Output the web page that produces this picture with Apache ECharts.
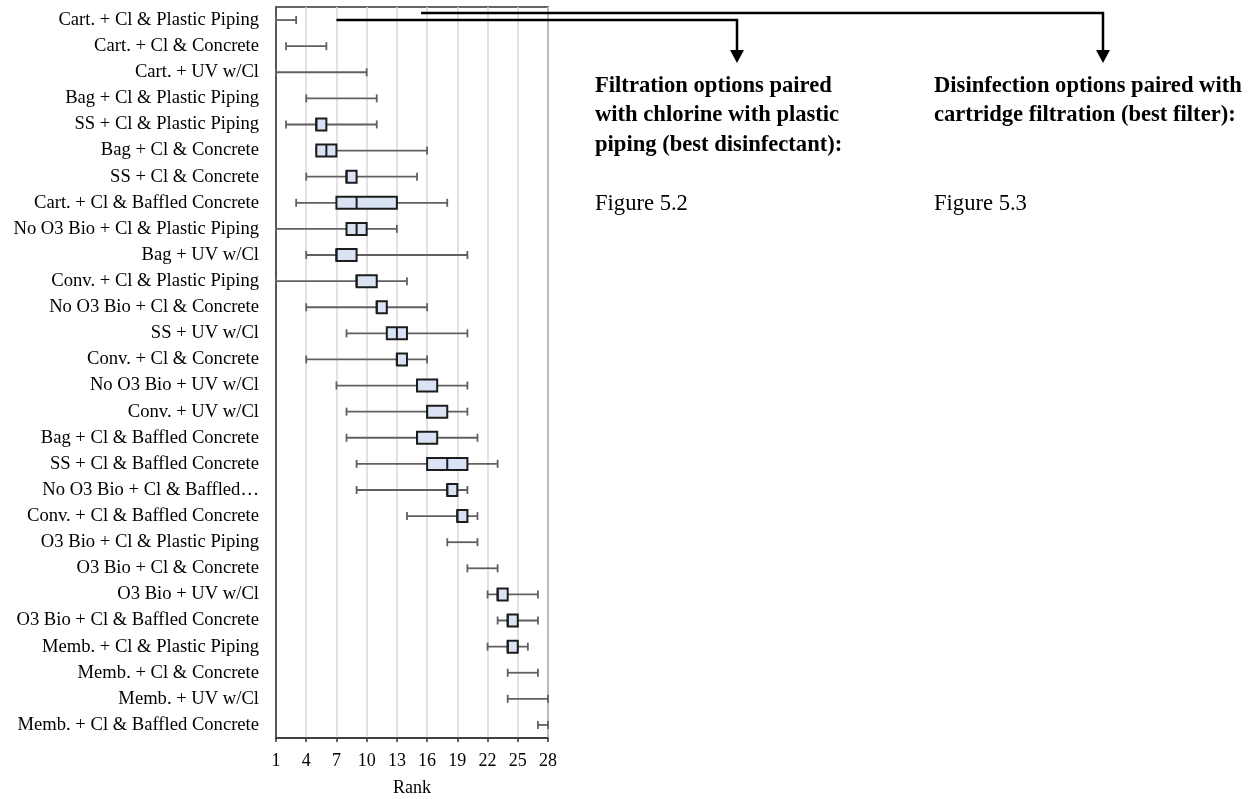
<!DOCTYPE html>
<html>
<head>
<meta charset="utf-8">
<script src="https://cdn.jsdelivr.net/npm/echarts@6/dist/echarts.min.js"></script>
<style>
  html, body { margin: 0; padding: 0; background: #fff; }
  #chart { width: 1250px; height: 799px; }
</style>
</head>
<body>
<div id="chart"></div>
<script>
// Treatment trains, listed from best (top) to worst rank
const categories = [
  'Cart. + Cl & Plastic Piping',
  'Cart. + Cl & Concrete',
  'Cart. + UV w/Cl',
  'Bag + Cl & Plastic Piping',
  'SS + Cl & Plastic Piping',
  'Bag + Cl & Concrete',
  'SS + Cl & Concrete',
  'Cart. + Cl & Baffled Concrete',
  'No O3 Bio + Cl & Plastic Piping',
  'Bag + UV w/Cl',
  'Conv. + Cl & Plastic Piping',
  'No O3 Bio + Cl & Concrete',
  'SS + UV w/Cl',
  'Conv. + Cl & Concrete',
  'No O3 Bio + UV w/Cl',
  'Conv. + UV w/Cl',
  'Bag + Cl & Baffled Concrete',
  'SS + Cl & Baffled Concrete',
  'No O3 Bio + Cl & Baffled…',
  'Conv. + Cl & Baffled Concrete',
  'O3 Bio + Cl & Plastic Piping',
  'O3 Bio + Cl & Concrete',
  'O3 Bio + UV w/Cl',
  'O3 Bio + Cl & Baffled Concrete',
  'Memb. + Cl & Plastic Piping',
  'Memb. + Cl & Concrete',
  'Memb. + UV w/Cl',
  'Memb. + Cl & Baffled Concrete'
];

// Rank statistics for each train
const minRank    = [1, 2, 1, 4, 2, 5, 4, 3, 1, 4, 1, 4, 8, 4, 7, 8, 8, 9, 9, 14, 18, 20, 22, 23, 22, 24, 24, 27];
const q1Rank     = [1, 2, 1, 4, 5, 5, 8, 7, 8, 7, 9, 11, 12, 13, 15, 16, 15, 16, 18, 19, 18, 20, 23, 24, 24, 24, 24, 27];
const medianRank = [1, 2, 1, 4, 5, 6, 8, 9, 9, 7, 9, 11, 13, 13, 15, 16, 15, 18, 18, 19, 18, 20, 23, 24, 24, 24, 24, 27];
const q3Rank     = [1, 2, 1, 4, 6, 7, 9, 13, 10, 9, 11, 12, 14, 14, 17, 18, 17, 20, 19, 20, 18, 20, 24, 25, 25, 24, 24, 27];
const maxRank    = [3, 6, 10, 11, 11, 16, 15, 18, 13, 20, 14, 16, 20, 16, 20, 20, 21, 23, 20, 21, 21, 23, 27, 27, 26, 27, 28, 28];

const rankTicks = [1, 4, 7, 10, 13, 16, 19, 22, 25, 28];

const rows = categories.map((c, i) => [i, minRank[i], q1Rank[i], medianRank[i], q3Rank[i], maxRank[i]]);

const SERIF = "'Liberation Serif', 'Times New Roman', serif";

function renderBox(params, api) {
  const cat = api.value(0);
  const lo = api.coord([api.value(1), cat]);
  const b1 = api.coord([api.value(2), cat]);
  const md = api.coord([api.value(3), cat]);
  const b3 = api.coord([api.value(4), cat]);
  const hi = api.coord([api.value(5), cat]);
  const cy = lo[1];
  const capH = 4;
  const boxH = 6;
  const whisker = { stroke: '#606060', lineWidth: 1.8 };
  const children = [
    { type: 'line', shape: { x1: lo[0], y1: cy, x2: hi[0], y2: cy }, style: whisker },
    { type: 'line', shape: { x1: lo[0], y1: cy - capH, x2: lo[0], y2: cy + capH }, style: whisker },
    { type: 'line', shape: { x1: hi[0], y1: cy - capH, x2: hi[0], y2: cy + capH }, style: whisker }
  ];
  if (b3[0] - b1[0] > 0.5) {
    children.push({
      type: 'rect',
      shape: { x: b1[0], y: cy - boxH, width: b3[0] - b1[0], height: boxH * 2 },
      style: { fill: '#dae3f3', stroke: '#1c1c1c', lineWidth: 2 }
    });
    children.push({
      type: 'line',
      shape: { x1: md[0], y1: cy - boxH, x2: md[0], y2: cy + boxH },
      style: { stroke: '#1c1c1c', lineWidth: 2 }
    });
  }
  return { type: 'group', children };
}

const chart = echarts.init(document.getElementById('chart'), null, { renderer: 'canvas' });

chart.setOption({
  animation: false,
  backgroundColor: '#ffffff',
  grid: {
    left: 276, right: 702, top: 7, bottom: 61,
    outerBoundsMode: 'none',
    containLabel: false,
    show: true, borderColor: '#333333', borderWidth: 1.5, backgroundColor: 'transparent'
  },
  xAxis: {
    type: 'value',
    min: 1, max: 28, interval: 3,
    name: 'Rank',
    nameLocation: 'middle',
    nameGap: 41,
    nameTextStyle: { fontFamily: SERIF, fontSize: 18, color: '#000' },
    axisLine: { show: true, lineStyle: { color: '#333333', width: 1.5 } },
    axisTick: { show: true, length: 4, lineStyle: { color: '#333333', width: 1.5 } },
    axisLabel: {
      margin: 14, fontFamily: SERIF, fontSize: 18, color: '#000',
      formatter: v => (rankTicks.includes(v) ? String(v) : '')
    },
    splitLine: { show: true, lineStyle: { color: '#d9d9d9', width: 1.5 } }
  },
  yAxis: {
    type: 'category',
    data: categories,
    inverse: true,
    axisLine: { show: true, lineStyle: { color: '#333333', width: 1.5 } },
    axisTick: { show: false },
    axisLabel: { margin: 17, fontFamily: SERIF, fontSize: 18.6, color: '#000', interval: 0 },
    splitLine: { show: false }
  },
  series: [{
    type: 'custom',
    renderItem: renderBox,
    encode: { x: [1, 2, 3, 4, 5], y: 0 },
    data: rows,
    clip: false,
    z: 3
  }]
});

// Annotation callouts: arrows from the leading rows out to the figure references
const startFiltration = chart.convertToPixel({ gridIndex: 0 }, [7, 0]);
const startDisinfect = chart.convertToPixel({ gridIndex: 0 }, [15.4, 0]);
const yFiltration = startFiltration[1];
const yDisinfect = startDisinfect[1] - 7;
const arrowFiltrationX = 737;
const arrowDisinfectX = 1103;
const arrowTipY = 63;

function arrow(x0, y0, xEnd) {
  return [
    {
      type: 'polyline',
      shape: { points: [[x0, y0], [xEnd, y0], [xEnd, arrowTipY - 12]] },
      style: { stroke: '#000', lineWidth: 2.5, fill: null },
      z: 10
    },
    {
      type: 'polygon',
      shape: { points: [[xEnd - 7, arrowTipY - 13], [xEnd + 7, arrowTipY - 13], [xEnd, arrowTipY]] },
      style: { fill: '#000' },
      z: 10
    }
  ];
}

function textLine(x, y, str, bold) {
  return {
    type: 'text',
    x: x, y: y,
    style: {
      text: str,
      font: (bold ? 'bold ' : '') + '22.6px ' + SERIF,
      fill: '#000',
      textAlign: 'left',
      textVerticalAlign: 'middle'
    },
    z: 10
  };
}

chart.setOption({
  graphic: [
    ...arrow(startFiltration[0], yFiltration, arrowFiltrationX),
    ...arrow(startDisinfect[0], yDisinfect, arrowDisinfectX),
    textLine(595, 86, 'Filtration options paired', true),
    textLine(595, 115.5, 'with chlorine with plastic', true),
    textLine(595, 145, 'piping (best disinfectant):', true),
    textLine(595, 204, 'Figure 5.2', false),
    textLine(934, 86, 'Disinfection options paired with', true),
    textLine(934, 115.5, 'cartridge filtration (best filter):', true),
    textLine(934, 204, 'Figure 5.3', false)
  ]
});
</script>
</body>
</html>
